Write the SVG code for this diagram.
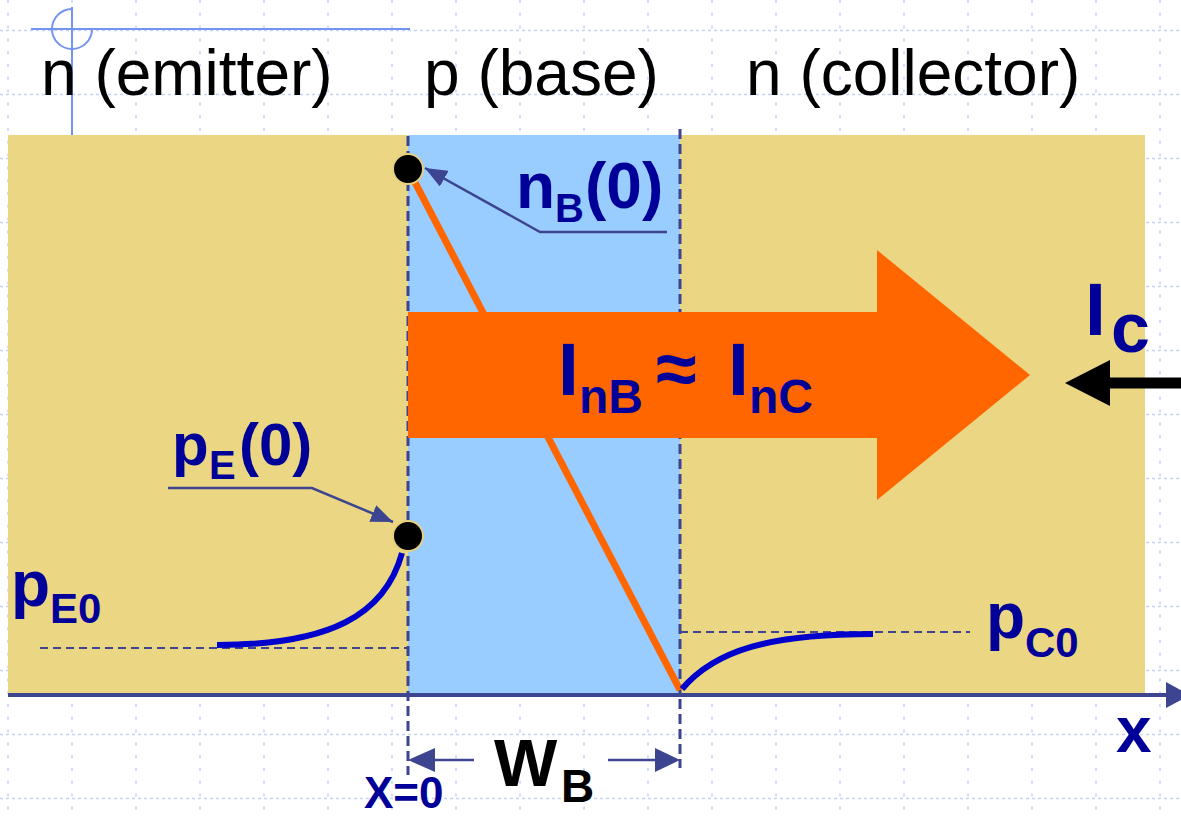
<svg xmlns="http://www.w3.org/2000/svg" width="1181" height="818" viewBox="0 0 1181 818">
<defs>
<style>
.grid line{stroke:#c3d2f6;stroke-width:1.5}
.gh{stroke-dasharray:3 3}
.gv{stroke-dasharray:3 9.8}
.hdr{font-family:"Liberation Sans",Arial,sans-serif;font-size:64px;fill:#000}
.lbl{font-family:"Liberation Sans",Arial,sans-serif;font-weight:bold;fill:#000099}
.lead{fill:none;stroke:#3d4590;stroke-width:2.5}
.dash{fill:none;stroke:#3d4590;stroke-width:2;stroke-dasharray:8 5}
.vdash{fill:none;stroke:#3d4590;stroke-width:3;stroke-dasharray:10 5}
.curve{fill:none;stroke:#0000cc;stroke-width:6}
.dot{fill:#000;stroke:#e6cf7e;stroke-width:2}
</style>
<marker id="ah" viewBox="0 0 22 18" refX="22" refY="9" markerWidth="22" markerHeight="18" markerUnits="userSpaceOnUse" orient="auto">
<path d="M0,0 L22,9 L0,18 Z" fill="#3d4590"/>
</marker>
</defs>
<rect width="1181" height="818" fill="#fff"/>
<g id="grid" class="grid">
<line class="gh" x1="0" y1="30.5" x2="1181" y2="30.5"/>
<line class="gh" x1="0" y1="94.5" x2="1181" y2="94.5"/>
<line class="gh" x1="0" y1="158.5" x2="1181" y2="158.5"/>
<line class="gh" x1="0" y1="222.5" x2="1181" y2="222.5"/>
<line class="gh" x1="0" y1="286.5" x2="1181" y2="286.5"/>
<line class="gh" x1="0" y1="350.5" x2="1181" y2="350.5"/>
<line class="gh" x1="0" y1="414.5" x2="1181" y2="414.5"/>
<line class="gh" x1="0" y1="478.5" x2="1181" y2="478.5"/>
<line class="gh" x1="0" y1="542.5" x2="1181" y2="542.5"/>
<line class="gh" x1="0" y1="606.5" x2="1181" y2="606.5"/>
<line class="gh" x1="0" y1="670.5" x2="1181" y2="670.5"/>
<line class="gh" x1="0" y1="734.5" x2="1181" y2="734.5"/>
<line class="gh" x1="0" y1="798.5" x2="1181" y2="798.5"/>
<line class="gv" x1="8" y1="0" x2="8" y2="818"/>
<line class="gv" x1="72" y1="0" x2="72" y2="818"/>
<line class="gv" x1="136" y1="0" x2="136" y2="818"/>
<line class="gv" x1="200" y1="0" x2="200" y2="818"/>
<line class="gv" x1="264" y1="0" x2="264" y2="818"/>
<line class="gv" x1="328" y1="0" x2="328" y2="818"/>
<line class="gv" x1="392" y1="0" x2="392" y2="818"/>
<line class="gv" x1="456" y1="0" x2="456" y2="818"/>
<line class="gv" x1="520" y1="0" x2="520" y2="818"/>
<line class="gv" x1="584" y1="0" x2="584" y2="818"/>
<line class="gv" x1="648" y1="0" x2="648" y2="818"/>
<line class="gv" x1="712" y1="0" x2="712" y2="818"/>
<line class="gv" x1="776" y1="0" x2="776" y2="818"/>
<line class="gv" x1="840" y1="0" x2="840" y2="818"/>
<line class="gv" x1="904" y1="0" x2="904" y2="818"/>
<line class="gv" x1="968" y1="0" x2="968" y2="818"/>
<line class="gv" x1="1032" y1="0" x2="1032" y2="818"/>
<line class="gv" x1="1096" y1="0" x2="1096" y2="818"/>
<line class="gv" x1="1160" y1="0" x2="1160" y2="818"/>
</g>
<g id="crosshair" fill="none" stroke="#7394f2" stroke-width="2">
<line x1="31" y1="29" x2="410" y2="29"/>
<line x1="72" y1="7" x2="72" y2="135"/>
<path d="M72,9 A20,20 0 1 0 92,29"/>
</g>
<g id="regions">
<rect id="emitter" x="8" y="135" width="400" height="560" fill="#ebd783"/>
<rect id="base" x="408" y="135" width="272" height="560" fill="#99ccff"/>
<rect id="collector" x="680" y="135" width="465" height="560" fill="#ebd783"/>
</g>
<g id="headers">
<text class="hdr" x="41" y="95">n (emitter)</text>
<text class="hdr" x="424" y="95">p (base)</text>
<text class="hdr" x="746" y="95">n (collector)</text>
</g>
<g id="connectors">
<line class="vdash" x1="408" y1="136" x2="408" y2="775"/>
<line class="vdash" x1="680" y1="129" x2="680" y2="768"/>
<line class="dash" x1="40" y1="648" x2="408" y2="648"/>
<line class="dash" x1="680" y1="632" x2="970" y2="632"/>
<line x1="408" y1="169" x2="680" y2="690" stroke="#ff6600" stroke-width="7"/>
<path class="curve" d="M217,645 C330,645 385,615 402,553"/>
<path class="curve" d="M682,689 C715,650 770,634 873,634"/>
<polyline class="lead" points="667,232 540,232 425,168" marker-end="url(#ah)"/>
<polyline class="lead" points="168,488 312,488 393,522" marker-end="url(#ah)"/>
<line x1="8" y1="695" x2="1170" y2="695" stroke="#3d4590" stroke-width="4"/>
<polygon points="1166,682 1190,695 1166,708" fill="#3d4590"/>
<line class="lead" x1="474" y1="760" x2="425" y2="760" stroke-width="4"/>
<polygon points="408,760 435,748 435,772" fill="#3d4590"/>
<line class="lead" x1="608" y1="760" x2="660" y2="760" stroke-width="4"/>
<polygon points="680,760 655,748 655,772" fill="#3d4590"/>
<line x1="1181" y1="383" x2="1105" y2="383" stroke="#000" stroke-width="11"/>
<polygon points="1065,383 1110,360 1110,406" fill="#000"/>
</g>
<g id="current-arrow">
<polygon points="408,312 877,312 877,250 1030,375 877,500 877,438 408,438" fill="#ff6600"/>
<text class="lbl" y="395"><tspan x="558" font-size="75">I</tspan><tspan x="579" y="413" font-size="48">nB</tspan><tspan x="656" y="394" font-size="74">≈</tspan><tspan x="728" y="395" font-size="75">I</tspan><tspan x="749" y="413" font-size="48">nC</tspan></text>
</g>
<g id="nB0">
<circle class="dot" cx="408" cy="169" r="15"/>
<text class="lbl" y="208"><tspan x="516" font-size="64">n</tspan><tspan x="555" y="222" font-size="40">B</tspan><tspan x="585" y="208" font-size="64">(0)</tspan></text>
</g>
<g id="pE0-point">
<circle class="dot" cx="408" cy="536" r="15"/>
<text class="lbl" y="465"><tspan x="172" font-size="60">p</tspan><tspan x="209" y="479" font-size="40">E</tspan><tspan x="239" y="465" font-size="60">(0)</tspan></text>
</g>
<g id="pE0">
<text class="lbl" y="606"><tspan x="11" font-size="64">p</tspan><tspan x="50" y="623" font-size="42">E0</tspan></text>
</g>
<g id="pC0">
<text class="lbl" y="638"><tspan x="986" font-size="64">p</tspan><tspan x="1025" y="657" font-size="42">C0</tspan></text>
</g>
<g id="Ic">
<text class="lbl"><tspan x="1085" y="335" font-size="75">I</tspan><tspan x="1111" y="352" font-size="70">c</tspan></text>
</g>
<g id="x-axis-label">
<text class="lbl" x="1116" y="752" font-size="64">x</text>
</g>
<g id="WB">
<text font-family="Liberation Sans, Arial, sans-serif" font-weight="bold" fill="#000"><tspan x="494" y="786" font-size="67">W</tspan><tspan x="561" y="802" font-size="46">B</tspan></text>
</g>
<g id="x0">
<text class="lbl" x="364" y="808" font-size="44">X=0</text>
</g>
</svg>
